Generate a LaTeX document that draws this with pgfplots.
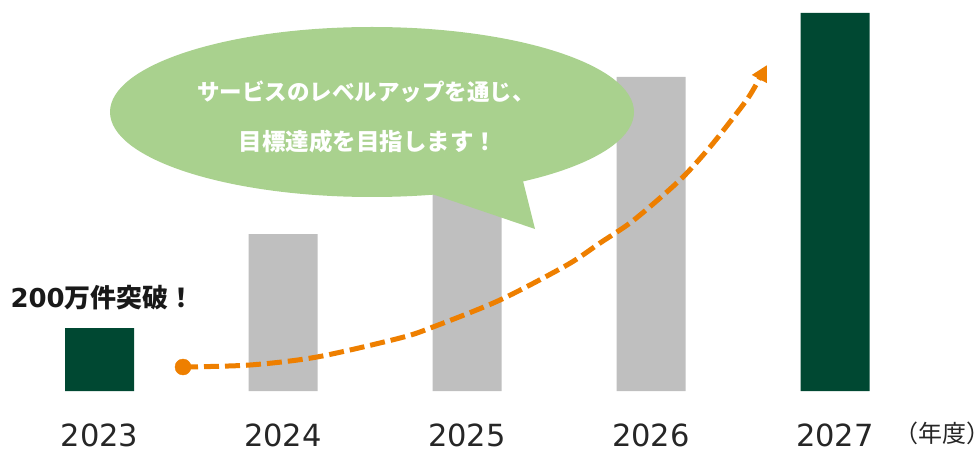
\documentclass[border=0pt]{standalone}
\usepackage{fontspec}
\setmainfont{DejaVu Sans}
\newfontfamily\jp{Noto Sans CJK JP}
\usepackage{pgfplots}
\pgfplotsset{compat=1.18}
\usetikzlibrary{arrows.meta}
\definecolor{dkgreen}{RGB}{0,72,50}
\definecolor{barGray}{RGB}{191,191,191}
\definecolor{bubble}{RGB}{169,209,142}
\definecolor{arrowOrange}{RGB}{238,127,0}
\begin{document}
\begin{tikzpicture}
\useasboundingbox (0,-59pt) rectangle (979pt,391pt);
\begin{axis}[at={(0,0)}, anchor=south west, scale only axis,
  width=979pt, height=391pt,
  xmin=0, xmax=979, ymin=0, ymax=391,
  clip=false,
  axis line style={draw=none}, tick style={draw=none},
  ytick=\empty,
  xtick={99.5,283,467,651,835},
  xticklabels={2023,2024,2025,2026,2027},
  xticklabel style={anchor=center, inner sep=0pt, text depth=0pt, yshift=-44pt, font=\fontsize{30.5}{32}\selectfont, text=black!85},
]
\addplot[ybar, bar width=69pt, bar shift=0pt, fill=dkgreen, draw=none] coordinates {(99.5,63) (835,378)};
\addplot[ybar, bar width=69pt, bar shift=0pt, fill=barGray, draw=none] coordinates {(283,157) (467,235) (651,314)};
% speech bubble
\fill[bubble] (axis cs:372,279) ellipse [x radius=262pt, y radius=85pt];
\fill[bubble] (axis cs:432,197) -- (axis cs:535,162) -- (axis cs:523,210) -- (axis cs:480,240) -- cycle;
\node[text=white, align=center, font=\jp\bfseries\fontsize{22.5}{23}\selectfont] at (axis cs:366,299) {サービスのレベルアップを通じ、};
\node[text=white, align=center, font=\jp\bfseries\fontsize{23.5}{24}\selectfont] at (axis cs:368,249) {目標達成を目指します！};
% arrow
\addplot[smooth, tension=0.5, arrowOrange, line width=5pt, dash pattern=on 15pt off 6pt, -{Triangle[length=16pt,width=16pt]}] coordinates {
(183,24) (250,26) (317,34) (400,53) (433,64) (500,91) (567,126) (600,148) (630,168) (660,193) (685,216) (710,244) (733,273) (750,296) (767,326)};
\addplot[only marks, mark=*, mark size=8pt, arrowOrange] coordinates {(183,24)};
\node[anchor=west, font=\bfseries\fontsize{26}{26}\selectfont, text=black!90] at (axis cs:7,93) {200{\jp 万件突破！}};
\node[font=\jp\fontsize{24}{24}\selectfont, text=black!85] at (axis cs:942,-42) {（年度）};
\end{axis}
\end{tikzpicture}
\end{document}
